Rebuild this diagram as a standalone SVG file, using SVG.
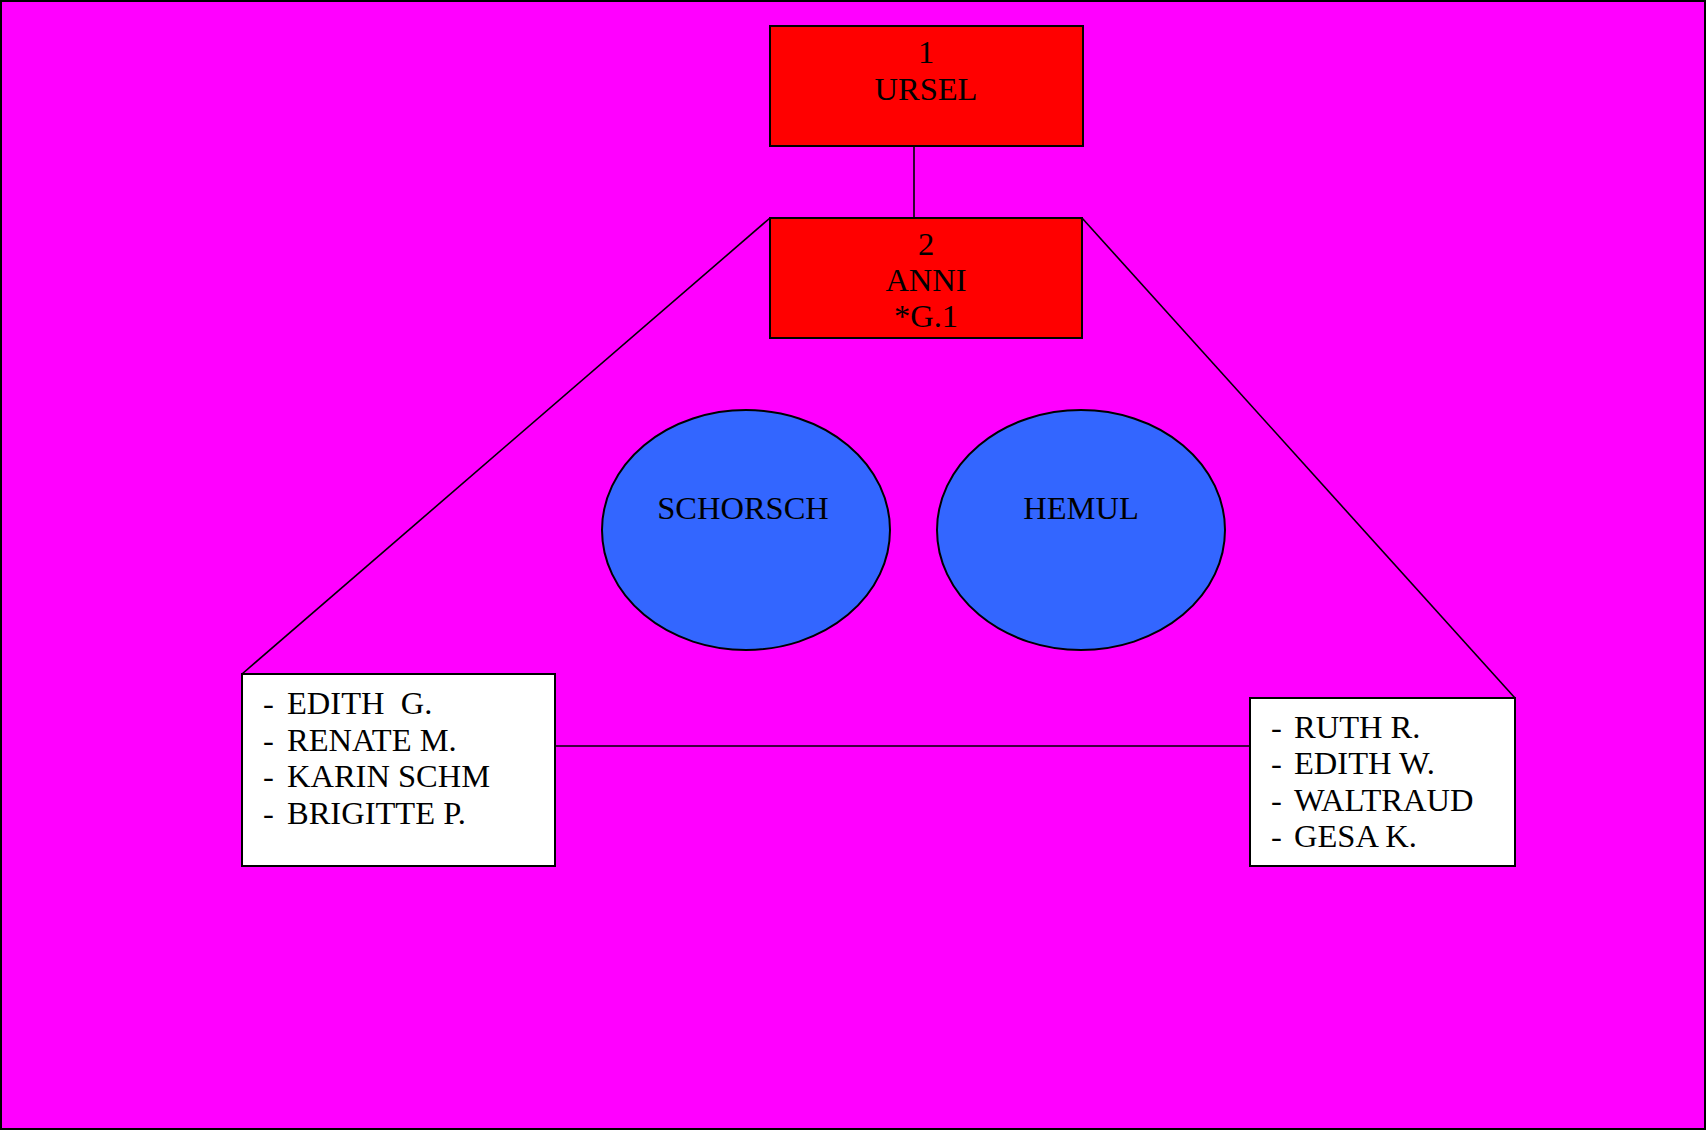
<svg xmlns="http://www.w3.org/2000/svg" width="1706" height="1131" viewBox="0 0 1706 1131">
<style>
.t{font-family:"Liberation Serif","Times New Roman",serif;font-size:32.5px;fill:#000;white-space:pre}
.c{text-anchor:middle}
.box{stroke:#000;stroke-width:2}
.ln{stroke:#000;stroke-width:1.6;fill:none}
</style>
<rect x="1" y="1" width="1704" height="1128" fill="#FF00FF" stroke="#000" stroke-width="2"/>
<g id="connectors">
<line class="ln" x1="914" y1="146" x2="914" y2="218"/>
<line class="ln" x1="770" y1="218" x2="242" y2="674"/>
<line class="ln" x1="1082" y1="218" x2="1515" y2="698"/>
<line class="ln" x1="555" y1="746" x2="1250" y2="746"/>
</g>
<g id="n1">
<rect class="box" x="770" y="26" width="313" height="120" fill="#FF0000"/>
<text class="t c" x="926" y="63">1</text>
<text class="t c" x="926" y="100">URSEL</text>
</g>
<g id="n2">
<rect class="box" x="770" y="218" width="312" height="120" fill="#FF0000"/>
<text class="t c" x="926" y="255">2</text>
<text class="t c" x="926" y="291">ANNI</text>
<text class="t c" x="926" y="327">*G.1</text>
</g>
<g id="schorsch">
<ellipse class="box" cx="746" cy="530" rx="144" ry="120" fill="#3366FF"/>
<text class="t c" x="743" y="519">SCHORSCH</text>
</g>
<g id="hemul">
<ellipse class="box" cx="1081" cy="530" rx="144" ry="120" fill="#3366FF"/>
<text class="t c" x="1081" y="519">HEMUL</text>
</g>
<g id="left-list">
<rect class="box" x="242" y="674" width="313" height="192" fill="#FFFFFF"/>
<text class="t" x="263" y="714">-</text><text class="t" x="287" y="714" xml:space="preserve">EDITH  G.</text>
<text class="t" x="263" y="751">-</text><text class="t" x="287" y="751">RENATE M.</text>
<text class="t" x="263" y="787">-</text><text class="t" x="287" y="787">KARIN SCHM</text>
<text class="t" x="263" y="824">-</text><text class="t" x="287" y="824">BRIGITTE P.</text>
</g>
<g id="right-list">
<rect class="box" x="1250" y="698" width="265" height="168" fill="#FFFFFF"/>
<text class="t" x="1271" y="738">-</text><text class="t" x="1294" y="738">RUTH R.</text>
<text class="t" x="1271" y="774">-</text><text class="t" x="1294" y="774">EDITH W.</text>
<text class="t" x="1271" y="811">-</text><text class="t" x="1294" y="811">WALTRAUD</text>
<text class="t" x="1271" y="847">-</text><text class="t" x="1294" y="847">GESA K.</text>
</g>
</svg>
